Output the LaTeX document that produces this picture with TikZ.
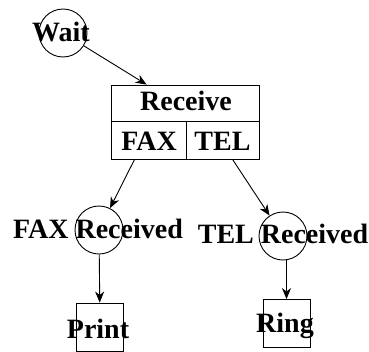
\documentclass[tikz,border=0pt]{standalone}
\usepackage{fontspec}
\setmainfont{Liberation Serif}
\newfontfamily\statefont{Liberation Serif}
\usetikzlibrary{arrows.meta,calc}
\tikzset{
  x=1pt, y=-1pt,
  every node/.style={font=\statefont\fontsize{28}{32}\selectfont\bfseries},
  statecircle/.style={draw, circle, line width=0.9pt, minimum size=48pt, inner sep=0pt},
  actionbox/.style={draw, rectangle, line width=0.9pt, inner sep=0pt},
  cell/.style={draw, rectangle, line width=0.9pt, inner sep=0pt},
  lbl/.style={inner sep=0pt, anchor=base},
  arr/.style={line width=0.9pt, -{Stealth[length=11pt,width=9pt,inset=3.5pt]}}
}
\begin{document}
\begin{tikzpicture}
\useasboundingbox (0,0) rectangle (369,351);

% initial state
\node[statecircle] (wait) at (63,33) {};
\node[lbl] (waittxt) at (61,41) {Wait};

% decision box: Receive with the two outcomes
\node[cell, minimum width=148pt, minimum height=36pt] (recv) at (185,103) {};
\node[cell, minimum width=75pt, minimum height=38pt] (fax) at (148.5,140) {};
\node[cell, minimum width=73pt, minimum height=38pt] (tel) at (222.5,140) {};
\node[lbl] (recvtxt) at (186,110) {Receive};
\node[lbl] (faxtxt) at (149,150) {FAX};
\node[lbl] (teltxt) at (222.5,150) {TEL};

% received states
\node[statecircle] (faxr) at (99,230) {};
\node[lbl] (faxrtxt) at (98,238) {FAX Received};
\node[statecircle] (telr) at (283,236) {};
\node[lbl] (telrtxt) at (283,243) {TEL Received};

% actions
\node[actionbox, minimum width=47pt, minimum height=48pt] (print) at (100,327) {};
\node[lbl] (printtxt) at (98,338) {Print};
\node[actionbox, minimum width=47pt, minimum height=48pt] (ring) at (286.5,323.5) {};
\node[lbl] (ringtxt) at (285,332) {Ring};

% transitions
\draw[arr] (wait) -- ($(recv.north west)+(36,0)$);
\draw[arr] ($(fax.south west)+(24,0)$) -- (faxr);
\draw[arr] ($(tel.south west)+(47,0)$) -- (telr);
\draw[arr] (faxr) -- (print);
\draw[arr] (telr.south -| ring.north) -- (ring.north);
\end{tikzpicture}
\end{document}
